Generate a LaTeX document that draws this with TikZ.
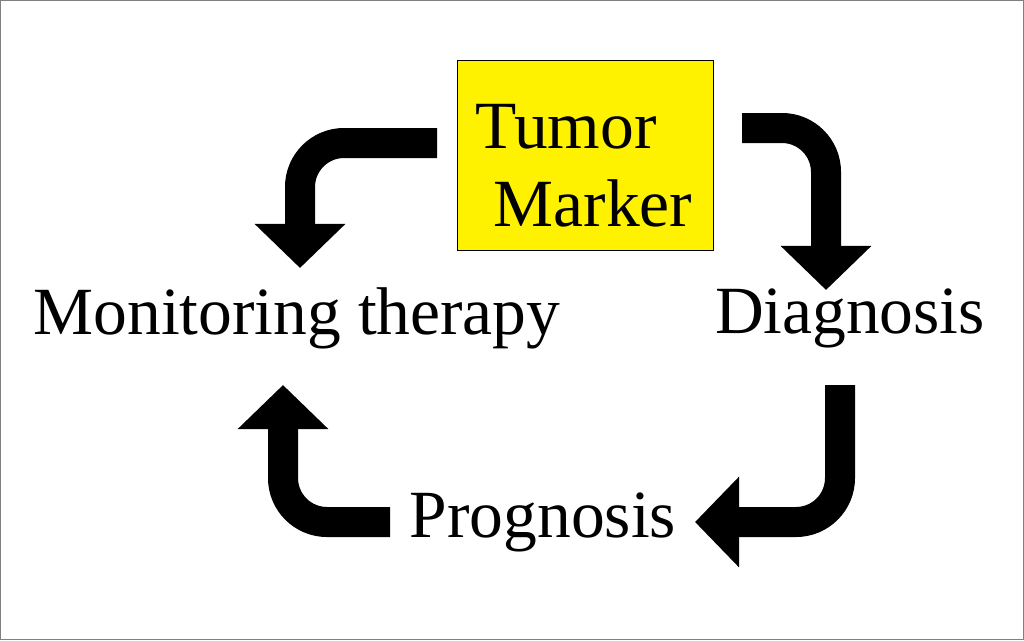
\documentclass[tikz,border=0pt]{standalone}
\usepackage{fontspec}
\setmainfont{Liberation Serif}
\usetikzlibrary{arrows.meta}
\tikzset{
  bigarrow/.style={line width=0.75cm, rounded corners=1.1cm,
    -{Triangle[width=2.2cm,length=1.1cm]}},
  label/.style={font=\fontsize{48}{52}\selectfont, inner sep=0pt}
}
\begin{document}
\begin{tikzpicture}[x=0.025cm,y=-0.025cm]
  \useasboundingbox (0,0) rectangle (1024,640);
  \draw[gray, line width=0.6pt] (0.5,0.5) rectangle (1023.5,639.5);

  %% Nodes
  \node[draw, fill=yellow, minimum width=6.4cm, minimum height=4.75cm,
        inner sep=0pt] (marker) at (585.5,155) {};
  \node[label] (tumor) at (566,127) {Tumor};
  \node[label] (mark) at (593,203) {Marker};
  \node[label] (monitor) at (297,318) {Monitoring therapy};
  \node[label] (diag) at (850,318) {Diagnosis};
  \node[label] (prog) at (543,522) {Prognosis};

  %% Arrows
  \coordinate (a1) at (437,143); \coordinate (b1) at (300,268);
  \coordinate (a2) at (742,128); \coordinate (b2) at (826,290);
  \coordinate (a3) at (840,385); \coordinate (b3) at (695,522);
  \coordinate (a4) at (390,522); \coordinate (b4) at (283,385);
  \draw[bigarrow] (a1) -| (b1);
  \draw[bigarrow] (a2) -| (b2);
  \draw[bigarrow] (a3) |- (b3);
  \draw[bigarrow] (a4) -| (b4);
\end{tikzpicture}
\end{document}
